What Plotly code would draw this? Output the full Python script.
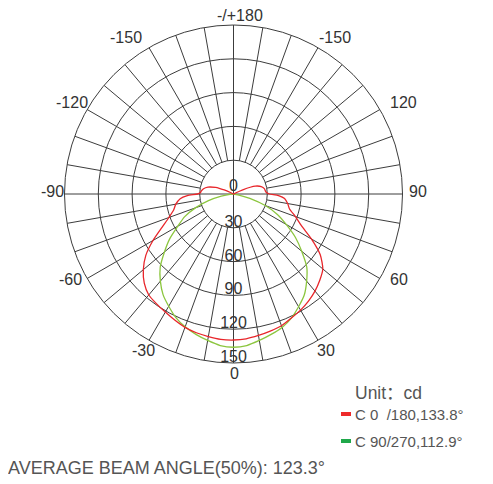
import plotly.graph_objects as go

# ---- data ----
c0_theta = [-118, -116, -114, -112, -110, -105, -100, -95, -92, -90, -88, -85, -80, -75, -70, -65, -60,
            -55, -50, -45, -40, -35, -30, -25, -20, -15, -10, -5, 0,
            5, 10, 15, 20, 25, 30, 35, 40, 45, 50, 55, 60, 65, 70, 75, 80, 85, 88, 90, 92, 95,
            100, 105, 110, 112, 114, 116, 118]
c0_r = [0, 3, 9, 13, 17, 23.5, 27, 28.8, 29.5, 32, 41, 47.5, 52, 55, 61, 70, 82.5,
        95, 104.5, 112, 117, 119, 121, 123.5, 126, 127.5, 128.5, 129.5, 129.6,
        129, 127.5, 126, 124.5, 121.5, 119, 116, 112.5, 108.3, 103.5, 94, 80, 66.5, 58.5, 51.5, 48.8, 45.5, 40, 32, 29.5, 28.5,
        27.8, 25.5, 20.5, 16, 9, 2, 0]

c90_theta = [-90, -85, -80, -75, -70, -65, -60, -55, -50, -45, -40, -35, -30, -25, -20, -15, -10, -5, 0,
             5, 10, 15, 20, 25, 30, 35, 40, 45, 50, 55, 60, 65, 70, 75, 80, 85, 90]
c90_r = [0, 2, 11, 23, 36, 48, 57, 69, 80, 92, 101, 109, 115, 121, 125.5, 129, 132, 135, 136,
         135, 132, 129, 126, 121.5, 115.5, 109.5, 101, 92, 79, 67, 54, 43, 30, 15, 4, 0, 0]

radial_ticks = [0, 30, 60, 90, 120, 150]
angle_ticktext = ["0", "30", "60", "90", "120", "-150", "-/+180", "-150", "-120", "-90", "-60", "-30"]
spoke_angles = list(range(0, 360, 10))

legend_c0 = "C 0  /180,133.8°"
legend_c90 = "C 90/270,112.9°"
unit_text = "Unit：cd"
beam_text = "AVERAGE BEAM ANGLE(50%): 123.3°"

# ---- layout / style (window pixels) ----
angle_label_pos = [(234, 373), (326, 350), (399, 279), (418, 191), (403, 102), (335, 37.5),
                   (239.5, 15), (126, 37.5), (72, 102), (52, 191), (70, 279), (143, 350)]

GRID = "#3c3c3c"
TXT = "#333333"
TXT2 = "#555555"
RED = "#e8262b"
GREEN = "#8cc63f"
FONT = "Liberation Sans, Arial, Noto Sans CJK SC, sans-serif"

# page body has an 8px default margin; positions below are given in window pixels
OFF = 8
W, H = 493, 484


def px(x):
    return (x - OFF) / W


def py(y):
    return 1 - (y - OFF) / H


fig = go.Figure()

# spokes (grid): every 10 deg from inner ring outward, full lines on main axes
sth, sr = [], []
for a in spoke_angles:
    inner = 0 if a % 90 == 0 else radial_ticks[1]
    sth += [a, a, None]
    sr += [inner, radial_ticks[-1], None]
fig.add_trace(go.Scatterpolar(theta=sth, r=sr, mode="lines",
                              line=dict(color=GRID, width=1), hoverinfo="skip", showlegend=False))

fig.add_trace(go.Scatterpolar(theta=c90_theta, r=c90_r, mode="lines",
                              line=dict(color=GREEN, width=1.3, shape="spline", smoothing=0.6),
                              hoverinfo="skip", showlegend=False))
fig.add_trace(go.Scatterpolar(theta=c0_theta, r=c0_r, mode="lines",
                              line=dict(color=RED, width=1.3, shape="spline", smoothing=0.6),
                              hoverinfo="skip", showlegend=False))

# radial labels on the vertical axis: each centred just inside its ring, "0" just above the centre
lab_theta = [180 if v == 0 else 0 for v in radial_ticks]
lab_r = [6 if v == 0 else v - 4.5 for v in radial_ticks]
fig.add_trace(go.Scatterpolar(theta=lab_theta, r=lab_r, mode="text", cliponaxis=False,
                              text=[str(v) for v in radial_ticks], textposition="middle center",
                              textfont=dict(family=FONT, size=16, color=TXT),
                              hoverinfo="skip", showlegend=False))

cx, cy, R = 233.5, 194, 169
fig.update_layout(
    width=W, height=H,
    margin=dict(l=0, r=0, t=0, b=0),
    paper_bgcolor="white", plot_bgcolor="white",
    showlegend=False,
    font=dict(family=FONT, size=16, color=TXT),
    polar=dict(
        domain=dict(x=[px(cx - R), px(cx + R)], y=[py(cy + R), py(cy - R)]),
        bgcolor="white",
        angularaxis=dict(rotation=270, direction="counterclockwise",
                         showticklabels=False, showgrid=False, ticks="",
                         showline=True, linecolor=GRID, linewidth=1, layer="below traces"),
        radialaxis=dict(range=[0, 150], tickmode="array", tickvals=radial_ticks[1:],
                        showticklabels=False, ticks="", showline=False,
                        showgrid=True, gridcolor=GRID, gridwidth=1, layer="below traces"),
    ),
)

# angular tick labels
for txt, (lx, ly) in zip(angle_ticktext, angle_label_pos):
    fig.add_annotation(x=px(lx), y=py(ly), xref="paper", yref="paper", xanchor="center", yanchor="middle",
                       text=txt, showarrow=False, font=dict(family=FONT, size=16, color=TXT))

# legend block (text + small colour dashes)
fig.add_annotation(x=px(353), y=py(393), xref="paper", yref="paper", xanchor="left", yanchor="middle",
                   text=unit_text, showarrow=False, font=dict(family=FONT, size=17.5, color=TXT2))
fig.add_annotation(x=px(353), y=py(414), xref="paper", yref="paper", xanchor="left", yanchor="middle",
                   text=legend_c0, showarrow=False, font=dict(family=FONT, size=15, color=TXT2))
fig.add_annotation(x=px(353), y=py(441), xref="paper", yref="paper", xanchor="left", yanchor="middle",
                   text=legend_c90, showarrow=False, font=dict(family=FONT, size=15, color=TXT2))
fig.add_shape(type="rect", xref="paper", yref="paper", x0=px(341), x1=px(351),
              y0=py(416), y1=py(412), fillcolor="#ee2a2a", line=dict(width=0))
fig.add_shape(type="rect", xref="paper", yref="paper", x0=px(341), x1=px(351),
              y0=py(443), y1=py(439), fillcolor="#1fa84a", line=dict(width=0))
fig.add_annotation(x=px(6), y=py(468), xref="paper", yref="paper", xanchor="left", yanchor="middle",
                   text=beam_text, showarrow=False, font=dict(family=FONT, size=18, color=TXT2))

fig.write_html("out.html")
